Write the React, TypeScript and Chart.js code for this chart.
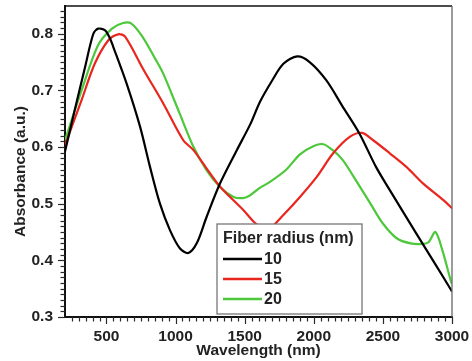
import React, { useEffect, useRef } from "react";
import { Chart, registerables } from "chart.js";
Chart.register(...registerables);

const seriesLabels = ["10", "15", "20"];
const seriesColors = ["#000000", "#e8261e", "#4cc83a"];

const wl10 = [200, 270, 345, 405, 440, 490, 525, 549, 646, 743, 815, 887, 960, 1032, 1092, 1153, 1225, 1322, 1442, 1540, 1611, 1700, 1780, 1880, 1970, 2090, 2210, 2330, 2450, 2550, 2740, 2890, 3000];
const abs10 = [0.592, 0.665, 0.741, 0.8, 0.809, 0.806, 0.792, 0.777, 0.712, 0.636, 0.565, 0.5, 0.453, 0.421, 0.413, 0.43, 0.477, 0.536, 0.594, 0.64, 0.68, 0.718, 0.747, 0.76, 0.75, 0.718, 0.671, 0.624, 0.565, 0.524, 0.448, 0.389, 0.345];

const wl15 = [200, 320, 415, 515, 585, 635, 767, 911, 1056, 1128, 1225, 1322, 1490, 1575, 1640, 1690, 1780, 1900, 2020, 2140, 2260, 2350, 2430, 2550, 2670, 2790, 2940, 3000];
const abs15 = [0.603, 0.683, 0.747, 0.789, 0.799, 0.795, 0.737, 0.677, 0.612, 0.595, 0.562, 0.53, 0.489, 0.466, 0.457, 0.458, 0.48, 0.512, 0.547, 0.589, 0.618, 0.625, 0.612, 0.589, 0.565, 0.536, 0.506, 0.492];

const wl20 = [200, 320, 440, 540, 620, 680, 760, 850, 910, 1030, 1130, 1225, 1320, 1420, 1490, 1540, 1610, 1680, 1800, 1900, 2000, 2070, 2140, 2210, 2290, 2410, 2500, 2600, 2700, 2790, 2830, 2880, 2930, 2990, 3000];
const abs20 = [0.612, 0.7, 0.78, 0.809, 0.819, 0.818, 0.795, 0.757, 0.73, 0.659, 0.6, 0.559, 0.53, 0.512, 0.51, 0.515, 0.528, 0.538, 0.56, 0.587, 0.602, 0.605, 0.594, 0.577, 0.547, 0.5, 0.465, 0.439, 0.43, 0.429, 0.432, 0.45, 0.418, 0.365, 0.358];

const xTickValues = [500, 1000, 1500, 2000, 2500, 3000];
const yTickValues = [0.3, 0.4, 0.5, 0.6, 0.7, 0.8];
const xMin = 200;
const xMax = 3000;
const yMin = 0.3;
const yMax = 0.849;
const xMinorStep = 50;
const yMinorStep = 0.01;
const xTitle = "Wavelength (nm)";
const yTitle = "Absorbance (a.u.)";
const legendTitle = "Fiber radius (nm)";

const FONT = "'Liberation Sans', Arial, Helvetica, sans-serif";
const TEXT = "#222";

const decorPlugin = {
  id: "decor",
  afterDraw(chart: any) {
    const { ctx, chartArea: ca } = chart;
    const xs = chart.scales.x;
    const ys = chart.scales.y;
    ctx.save();
    // top border
    ctx.strokeStyle = "#111";
    ctx.lineWidth = 1.5;
    ctx.beginPath();
    ctx.moveTo(ca.left, ca.top);
    ctx.lineTo(ca.right, ca.top);
    ctx.stroke();
    // right border
    ctx.strokeStyle = "#666";
    ctx.lineWidth = 1.3;
    ctx.beginPath();
    ctx.moveTo(ca.right, ca.top);
    ctx.lineTo(ca.right, ca.bottom);
    ctx.stroke();
    // ticks (minor and major)
    ctx.strokeStyle = "#2a2a2a";
    ctx.lineWidth = 1.2;
    const nx = Math.round((xMax - xMin) / xMinorStep);
    for (let i = 1; i <= nx; i++) {
      const v = xMin + i * xMinorStep;
      const px = Math.round(xs.getPixelForValue(v)) + 0.5;
      const major = xTickValues.includes(v);
      ctx.beginPath();
      ctx.moveTo(px, ca.bottom);
      ctx.lineTo(px, ca.bottom + (major ? 7 : 4.5));
      ctx.stroke();
    }
    const ny = Math.floor((yMax - yMin) / yMinorStep + 1e-6);
    for (let i = 0; i <= ny; i++) {
      const v = yMin + i * yMinorStep;
      const py = Math.round(ys.getPixelForValue(v)) + 0.5;
      const major = i % 10 === 0;
      ctx.beginPath();
      ctx.moveTo(ca.left, py);
      ctx.lineTo(ca.left - (major ? 7 : 4.5), py);
      ctx.stroke();
    }
    // y title
    ctx.save();
    ctx.fillStyle = TEXT;
    ctx.font = `bold 15.5px ${FONT}`;
    ctx.textAlign = "center";
    ctx.textBaseline = "middle";
    ctx.translate(21, (ca.top + ca.bottom) / 2 + 10);
    ctx.rotate(-Math.PI / 2);
    ctx.fillText(yTitle, 0, 0);
    ctx.restore();
    // legend
    const lx = ca.left + 152;
    const ly = ca.top + 218;
    const lw = 145;
    const lh = 90;
    ctx.fillStyle = "#ffffff";
    ctx.fillRect(lx, ly, lw, lh);
    ctx.strokeStyle = "#777";
    ctx.lineWidth = 1.3;
    ctx.strokeRect(lx, ly, lw, lh);
    ctx.fillStyle = TEXT;
    ctx.font = `bold 16px ${FONT}`;
    ctx.textBaseline = "middle";
    ctx.textAlign = "left";
    ctx.fillText(legendTitle, lx + 6, ly + 15);
    chart.data.datasets.forEach((ds: any, i: number) => {
      const yy = ly + 35 + i * 20;
      ctx.strokeStyle = ds.borderColor;
      ctx.lineWidth = 2.5;
      ctx.beginPath();
      ctx.moveTo(lx + 6, yy);
      ctx.lineTo(lx + 45, yy);
      ctx.stroke();
      ctx.fillStyle = TEXT;
      ctx.fillText(ds.label, lx + 47, yy + 1);
    });
    ctx.restore();
  },
};

function toPoints(xs: number[], ys: number[]) {
  return xs.map((x, i) => ({ x, y: ys[i] }));
}

export default function App() {
  const ref = useRef<HTMLCanvasElement | null>(null);
  useEffect(() => {
    if (!ref.current) return;
    const wls = [wl10, wl15, wl20];
    const abss = [abs10, abs15, abs20];
    const chart = new Chart(ref.current, {
      type: "line",
      data: {
        datasets: seriesLabels.map((label, i) => ({
          label,
          data: toPoints(wls[i], abss[i]),
          borderColor: seriesColors[i],
          backgroundColor: seriesColors[i],
          borderWidth: 2.2,
          pointRadius: 0,
          tension: 0.3,
          fill: false,
        })),
      },
      options: {
        responsive: false,
        animation: false,
        devicePixelRatio: 1,
        layout: { padding: { left: 0, right: 20, top: 6, bottom: 0 } },
        plugins: { legend: { display: false }, tooltip: { enabled: false } },
        scales: {
          x: {
            type: "linear",
            min: xMin,
            max: xMax,
            afterBuildTicks: (s: any) => {
              s.ticks = xTickValues.map((v) => ({ value: v }));
            },
            afterFit: (s: any) => {
              s.height = 44;
              s.paddingLeft = 0;
              s.paddingRight = 0;
            },
            ticks: {
              color: TEXT,
              font: { family: FONT, size: 15.5, weight: "bold" },
              padding: 10,
              maxRotation: 0,
              autoSkip: false,
              callback: (v: any) => String(v),
            },
            grid: { drawOnChartArea: false, drawTicks: false },
            border: { display: true, color: "#111", width: 2 },
            title: {
              display: true,
              text: xTitle,
              color: TEXT,
              font: { family: FONT, size: 15.5, weight: "bold" },
              padding: { top: 0, bottom: 1 },
            },
          },
          y: {
            type: "linear",
            min: yMin,
            max: yMax,
            afterBuildTicks: (s: any) => {
              s.ticks = yTickValues.map((v) => ({ value: v }));
            },
            afterFit: (s: any) => {
              s.width = 65;
              s.paddingTop = 0;
              s.paddingBottom = 0;
            },
            ticks: {
              color: TEXT,
              font: { family: FONT, size: 15.5, weight: "bold" },
              padding: 12,
              callback: (v: any) => Number(v).toFixed(1),
            },
            grid: { drawOnChartArea: false, drawTicks: false },
            border: { display: true, color: "#111", width: 2 },
          },
        },
      },
      plugins: [decorPlugin],
    });
    return () => chart.destroy();
  }, []);
  return (
    <div style={{ position: "absolute", left: 0, top: 0, width: 472, height: 361, background: "#fff" }}>
      <canvas ref={ref} width={472} height={361} />
    </div>
  );
}
